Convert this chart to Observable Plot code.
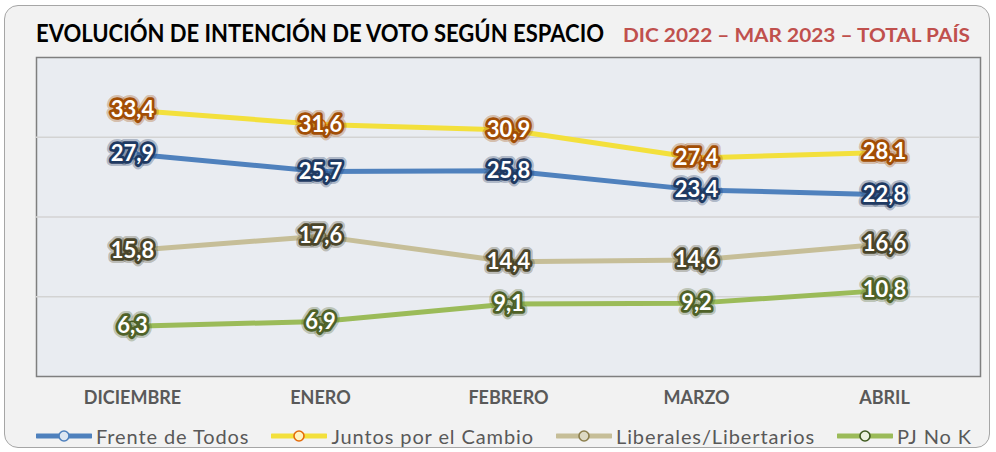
<!DOCTYPE html>
<html>
<head>
<meta charset="utf-8">
<script src="https://cdn.jsdelivr.net/npm/d3@7"></script>
<script src="https://cdn.jsdelivr.net/npm/@observablehq/plot@0.6"></script>
<style>
html, body { margin: 0; padding: 0; background: #ffffff; }
#wrap { position: relative; width: 996px; height: 452px; overflow: hidden; font-family: Lato, "Open Sans", sans-serif; }
#bg { position: absolute; left: 4px; top: 5px; width: 986px; height: 443px; box-sizing: border-box;
      border: 1.5px solid #a6a6a6; border-radius: 14px; background: #f2f2f2; }
#chart { position: absolute; left: 0; top: 0; }
#title { position: absolute; left: 0; top: 0; }
#legend { position: absolute; left: 36px; top: 424px; display: flex; align-items: center; gap: 22px;
          font-size: 20px; letter-spacing: 0.9px; color: #595959; white-space: nowrap; }
.item { display: flex; align-items: center; }
.item svg { margin-right: 4px; }
</style>
</head>
<body>
<div id="wrap">
  <div id="bg"></div>
  <svg id="title" width="996" height="60">
    <text x="36" y="42" font-family="Lato, sans-serif" font-weight="bold" font-size="24" fill="#000" textLength="568" lengthAdjust="spacingAndGlyphs">EVOLUCIÓN DE INTENCIÓN DE VOTO SEGÚN ESPACIO</text>
    <text x="623" y="42" font-family="Lato, sans-serif" font-weight="bold" font-size="19.5" fill="#c0504d" textLength="347" lengthAdjust="spacingAndGlyphs">DIC 2022 – MAR 2023 – TOTAL PAÍS</text>
  </svg>
  <div id="chart"></div>
  <div id="legend"></div>
</div>
<script>
// ---- data ----
const months = ["DICIEMBRE", "ENERO", "FEBRERO", "MARZO", "ABRIL"];
const seriesNames = ["Frente de Todos", "Juntos por el Cambio", "Liberales/Libertarios", "PJ No K"];
const frenteDeTodos = [27.9, 25.7, 25.8, 23.4, 22.8];
const juntosPorElCambio = [33.4, 31.6, 30.9, 27.4, 28.1];
const liberalesLibertarios = [15.8, 17.6, 14.4, 14.6, 16.6];
const pjNoK = [6.3, 6.9, 9.1, 9.2, 10.8];

// ---- styles ----
const lineColors = ["#4f81bd", "#f3e03c", "#c6be98", "#9bbb59"];
const haloColors = ["#1f3a62", "#a24e05", "#4a452a", "#4f6228"];
const markerFill = ["#dce6f2", "#fff2c0", "#ddd9c3", "#ebf1de"];
const markerStroke = ["#4f81bd", "#e46c0a", "#8c7f4e", "#3f5a1f"];

const seriesValues = [frenteDeTodos, juntosPorElCambio, liberalesLibertarios, pjNoK];
const data = seriesNames.flatMap((s, i) => months.map((m, j) => ({ series: s, month: m, value: seriesValues[i][j] })));
const fmt = v => v.toFixed(1).replace(".", ",");

const labelOpts = (i, extra) => Object.assign({
  x: "month", y: "value", text: d => fmt(d.value),
  fill: "white", stroke: haloColors[i], strokeLinejoin: "round", paintOrder: "stroke",
  fontSize: 22, fontWeight: "bold"
}, extra);

const chart = Plot.plot({
  width: 996,
  height: 452,
  marginLeft: 36,
  marginRight: 16,
  marginTop: 57,
  marginBottom: 76,
  style: { background: "transparent", fontFamily: "Lato, sans-serif", overflow: "visible" },
  x: { type: "point", domain: months, padding: 0.5, axis: null },
  y: { domain: [0, 40], axis: null },
  color: { domain: seriesNames, range: lineColors },
  marks: [
    Plot.frame({ fill: "#e9ecf1", stroke: "#7f7f7f", strokeWidth: 1.5 }),
    Plot.ruleY([10, 20, 30], { stroke: "#d3d3d3", strokeWidth: 1.5 }),
    Plot.line(data, { x: "month", y: "value", z: "series", stroke: "series", strokeWidth: 5 }),
    ...seriesNames.map((s, i) => Plot.dot(data.filter(d => d.series === s), {
      x: "month", y: "value", r: 5, fill: markerFill[i], stroke: markerStroke[i], strokeWidth: 1.5
    })),
    // soft outer glow
    ...seriesNames.map((s, i) => Plot.text(data.filter(d => d.series === s),
      labelOpts(i, { strokeWidth: 10, strokeOpacity: 0.3 }))),
    // main halo + white text
    ...seriesNames.map((s, i) => Plot.text(data.filter(d => d.series === s),
      labelOpts(i, { strokeWidth: 5.5 }))),
    Plot.axisX({ tickSize: 0, tickPadding: 15, fontSize: 18, fontWeight: "bold", fill: "#595959", label: null })
  ]
});
document.getElementById("chart").appendChild(chart);

// ---- legend ----
const legend = document.getElementById("legend");
seriesNames.forEach((s, i) => {
  const item = document.createElement("div");
  item.className = "item";
  item.innerHTML =
    `<svg width="56" height="14"><line x1="1" y1="7" x2="55" y2="7" stroke="${lineColors[i]}" stroke-width="5" stroke-linecap="round"/>` +
    `<circle cx="28" cy="7" r="5" fill="${markerFill[i]}" stroke="${markerStroke[i]}" stroke-width="1.6"/></svg>` +
    `<span>${s}</span>`;
  legend.appendChild(item);
});
</script>
</body>
</html>
